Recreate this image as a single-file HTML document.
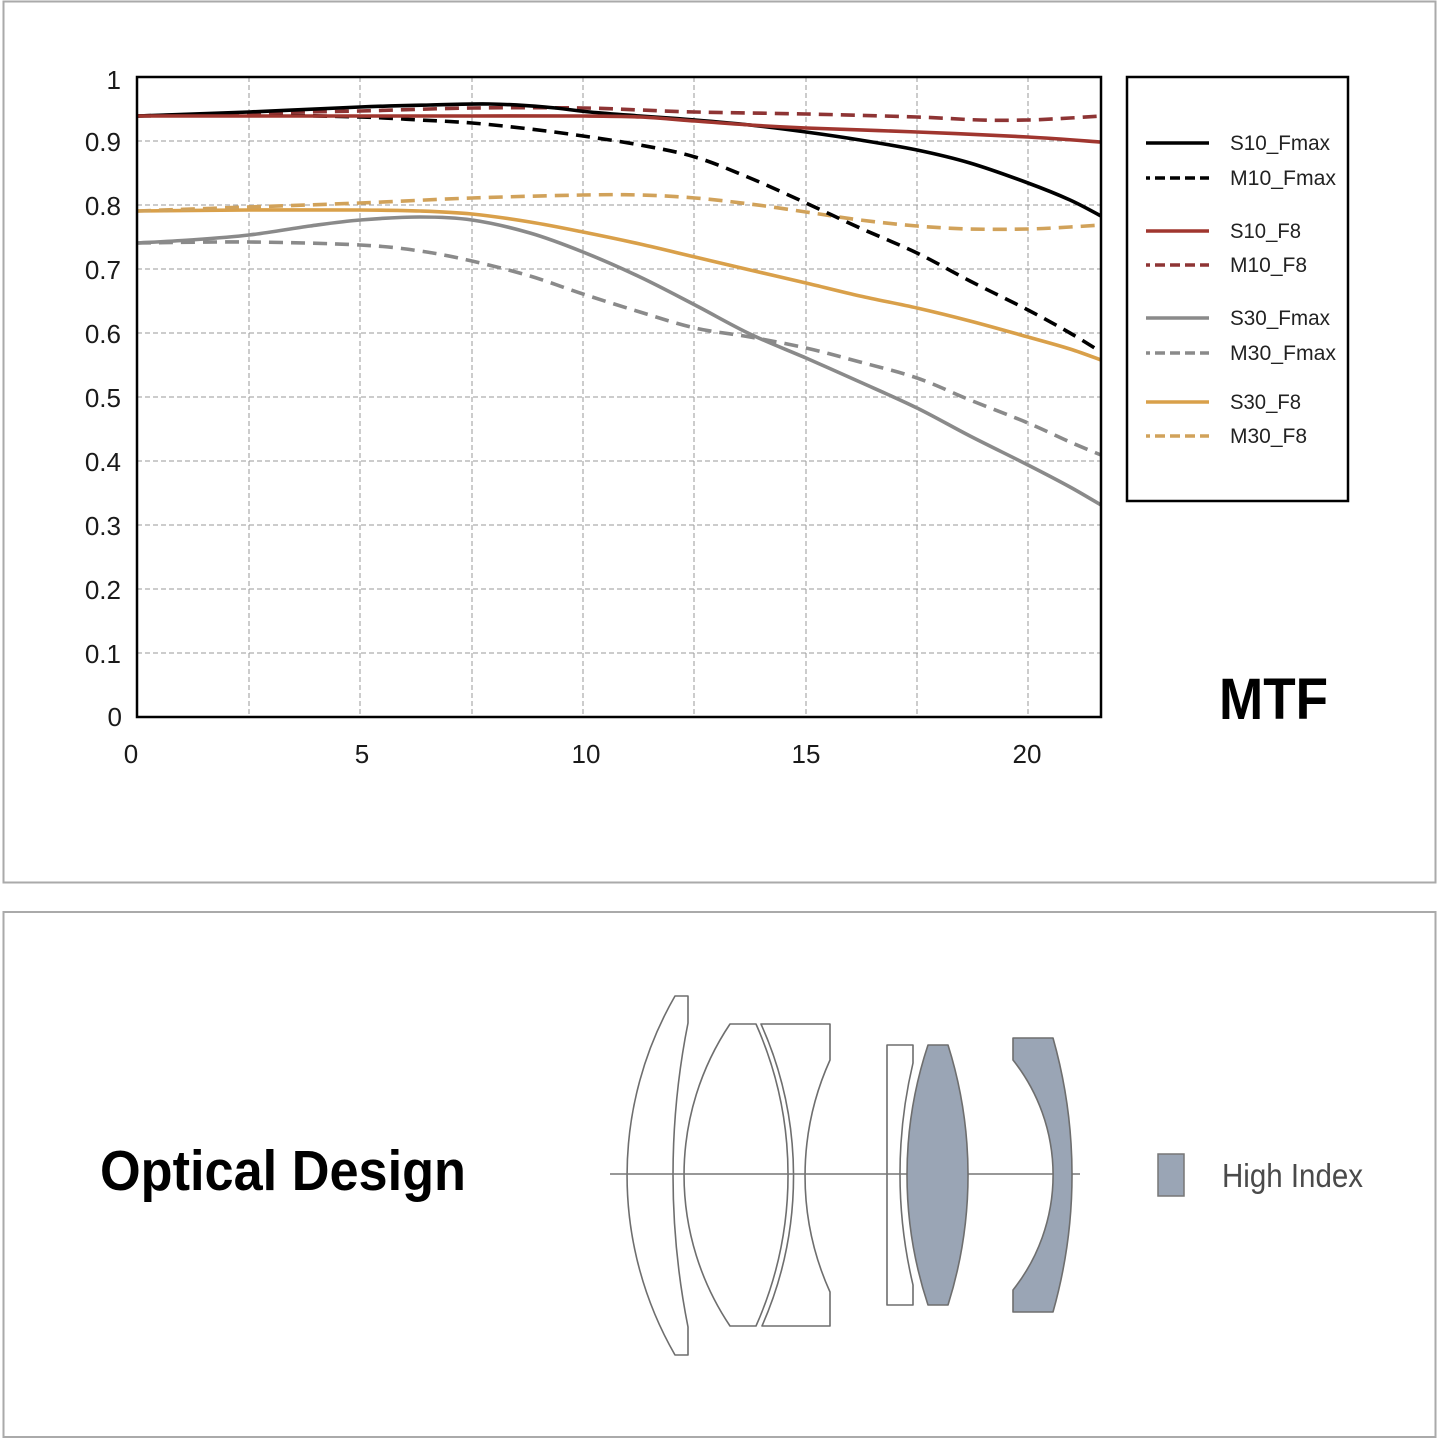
<!DOCTYPE html>
<html><head><meta charset="utf-8"><style>
html,body{margin:0;padding:0;background:#fff;}
svg{display:block;}
text{font-family:"Liberation Sans",sans-serif;}
</style></head><body>
<svg id="chart" width="1439" height="1439" viewBox="0 0 1439 1439" xmlns="http://www.w3.org/2000/svg">
<rect x="0" y="0" width="1439" height="1439" fill="#fff"/>
<!-- panels -->
<rect x="3.5" y="1.5" width="1432" height="881" fill="none" stroke="#aaa" stroke-width="2"/>
<rect x="3.5" y="912" width="1432" height="525" fill="none" stroke="#aaa" stroke-width="2"/>

<!-- grid -->
<g stroke="#9a9a9a" stroke-width="1" stroke-dasharray="5,3" fill="none">
<line x1="137" y1="141" x2="1101" y2="141"/>
<line x1="137" y1="205" x2="1101" y2="205"/>
<line x1="137" y1="269" x2="1101" y2="269"/>
<line x1="137" y1="333" x2="1101" y2="333"/>
<line x1="137" y1="397" x2="1101" y2="397"/>
<line x1="137" y1="461" x2="1101" y2="461"/>
<line x1="137" y1="525" x2="1101" y2="525"/>
<line x1="137" y1="589" x2="1101" y2="589"/>
<line x1="137" y1="653" x2="1101" y2="653"/>
<line x1="249" y1="77" x2="249" y2="717"/>
<line x1="360" y1="77" x2="360" y2="717"/>
<line x1="472" y1="77" x2="472" y2="717"/>
<line x1="583" y1="77" x2="583" y2="717"/>
<line x1="694" y1="77" x2="694" y2="717"/>
<line x1="806" y1="77" x2="806" y2="717"/>
<line x1="917" y1="77" x2="917" y2="717"/>
<line x1="1028" y1="77" x2="1028" y2="717"/>
</g>

<!-- series -->
<g id="series" fill="none" stroke-width="3.6" stroke-linejoin="round" stroke-linecap="butt">
<polyline stroke="#8a8a8a" stroke-dasharray="14,8" points="137,243 249,242 360,245 420,251 472,261 530,276 583,294 640,312 695,328 750,337 806,348 860,362 917,378 970,400 1028,423 1070,442 1101,455"/>
<polyline stroke="#8a8a8a" points="137,243 190,240 249,235 310,226 360,220 420,217 472,220 530,233 583,252 640,277 695,305 750,334 806,358 860,382 917,408 970,436 1028,465 1070,487 1101,505"/>
<polyline stroke="#d9a04a" points="137,211 249,210 360,210 420,211 472,214 530,222 583,232 640,244 695,257 750,270 806,283 860,296 917,308 970,321 1028,337 1070,349 1101,360"/>
<polyline stroke="#d1a25a" stroke-dasharray="14,8" points="137,211 249,207 360,203 472,198 583,195 640,195 695,198 750,204 806,212 860,220 917,226 970,229 1028,229 1070,227 1101,225"/>
<polyline stroke="#000" stroke-dasharray="14,8" points="137,116 249,115 360,117 420,120 472,123 530,129 583,136 640,145 695,157 750,178 806,203 860,228 917,253 970,281 1028,310 1070,333 1101,352"/>
<polyline stroke="#8e3434" stroke-dasharray="14,8" points="137,116 249,113 360,111 472,108 583,108 640,110 695,112 806,114 917,117 980,120 1028,120 1070,118 1101,116"/>
<polyline stroke="#000" points="137,116 249,112 360,107 430,105 490,104 545,107 590,112 640,116 695,120 750,125 806,132 860,140 917,150 970,163 1028,183 1070,200 1101,216"/>
<polyline stroke="#a0362f" points="137,116 249,116 360,116 472,116 583,116 640,117 695,121 750,125 806,128 917,132 1028,137 1101,142"/>
</g>

<!-- plot frame -->
<rect x="137" y="77" width="964" height="640" fill="none" stroke="#000" stroke-width="2.5"/>

<!-- y labels -->
<g font-size="26" fill="#1a1a1a" text-anchor="end">
<text x="121" y="89">1</text>
<text x="121" y="151">0.9</text>
<text x="121" y="215">0.8</text>
<text x="121" y="279">0.7</text>
<text x="121" y="343">0.6</text>
<text x="121" y="407">0.5</text>
<text x="121" y="471">0.4</text>
<text x="121" y="535">0.3</text>
<text x="121" y="599">0.2</text>
<text x="121" y="663">0.1</text>
<text x="122" y="726">0</text>
</g>
<g font-size="26" fill="#1a1a1a" text-anchor="middle">
<text x="131" y="763">0</text>
<text x="362" y="763">5</text>
<text x="586" y="763">10</text>
<text x="806" y="763">15</text>
<text x="1027" y="763">20</text>
</g>

<!-- legend -->
<rect x="1127" y="77" width="221" height="424" fill="none" stroke="#000" stroke-width="2.5"/>
<g stroke-width="3.6" fill="none">
<line x1="1146" y1="143" x2="1209" y2="143" stroke="#000"/>
<line x1="1146" y1="178" x2="1209" y2="178" stroke="#000" stroke-dasharray="4,5,10,5,10,5,10,5,10"/>
<line x1="1146" y1="231" x2="1209" y2="231" stroke="#a0362f"/>
<line x1="1146" y1="265" x2="1209" y2="265" stroke="#8e3434" stroke-dasharray="4,5,10,5,10,5,10,5,10"/>
<line x1="1146" y1="318" x2="1209" y2="318" stroke="#8a8a8a"/>
<line x1="1146" y1="353" x2="1209" y2="353" stroke="#8a8a8a" stroke-dasharray="4,5,10,5,10,5,10,5,10"/>
<line x1="1146" y1="402" x2="1209" y2="402" stroke="#d9a04a"/>
<line x1="1146" y1="436" x2="1209" y2="436" stroke="#d1a25a" stroke-dasharray="4,5,10,5,10,5,10,5,10"/>
</g>
<g font-size="21" fill="#222">
<text x="1230" y="150" textLength="100" lengthAdjust="spacingAndGlyphs">S10_Fmax</text>
<text x="1230" y="185" textLength="106" lengthAdjust="spacingAndGlyphs">M10_Fmax</text>
<text x="1230" y="238" textLength="71" lengthAdjust="spacingAndGlyphs">S10_F8</text>
<text x="1230" y="272" textLength="77" lengthAdjust="spacingAndGlyphs">M10_F8</text>
<text x="1230" y="325" textLength="100" lengthAdjust="spacingAndGlyphs">S30_Fmax</text>
<text x="1230" y="360" textLength="106" lengthAdjust="spacingAndGlyphs">M30_Fmax</text>
<text x="1230" y="409" textLength="71" lengthAdjust="spacingAndGlyphs">S30_F8</text>
<text x="1230" y="443" textLength="77" lengthAdjust="spacingAndGlyphs">M30_F8</text>
</g>

<text x="1219" y="719" font-size="58" font-weight="bold" fill="#000" textLength="109" lengthAdjust="spacingAndGlyphs">MTF</text>

<!-- Optical design -->
<text x="100" y="1190" font-size="57" font-weight="bold" fill="#000" textLength="366" lengthAdjust="spacingAndGlyphs">Optical Design</text>

<g stroke="#6e6e6e" stroke-width="1.6" fill="#fff" stroke-linejoin="round">
<path d="M675,996 L688,996 L688,1023 A778,778 0 0 0 688,1327 L688,1355 L675,1355 A360,360 0 0 1 675,996 Z"/>
<path d="M730,1024 L756,1024 A372,372 0 0 1 756,1326 L730,1326 A271,271 0 0 1 730,1024 Z"/>
<path d="M761,1024 L830,1024 L830,1060 A282,282 0 0 0 830,1292 L830,1326 L762,1326 A372,372 0 0 0 761,1024 Z"/>
<path d="M887,1045 L913,1045 L913,1063 A480,480 0 0 0 913,1285 L913,1305 L887,1305 Z"/>
</g>
<line x1="610" y1="1174" x2="1080" y2="1174" stroke="#777" stroke-width="1.6"/>
<g stroke="#6e6e6e" stroke-width="1.6" fill="#9aa5b5" stroke-linejoin="round">
<path d="M928,1045 L948,1045 A432,432 0 0 1 948,1305 L928,1305 A413,413 0 0 1 928,1045 Z"/>
<path d="M1013,1038 L1053,1038 A503,503 0 0 1 1053,1312 L1013,1312 L1013,1290 A185,185 0 0 0 1013,1060 Z"/>
</g>

<rect x="1158" y="1154" width="26" height="42" fill="#9aa5b5" stroke="#777" stroke-width="1.5"/>
<text x="1222" y="1187" font-size="33" fill="#4a4a4a" textLength="141" lengthAdjust="spacingAndGlyphs">High Index</text>
</svg>
<script>
(function(){
  var NS="http://www.w3.org/2000/svg";
  var g=document.getElementById("series");
  var pls=Array.prototype.slice.call(g.getElementsByTagName("polyline"));
  pls.forEach(function(pl){
    var pts=pl.getAttribute("points").trim().split(/\s+/).map(function(s){var a=s.split(",");return [parseFloat(a[0]),parseFloat(a[1])];});
    var d="M"+pts[0][0]+","+pts[0][1];
    for(var i=0;i<pts.length-1;i++){
      var p0=pts[i>0?i-1:i],p1=pts[i],p2=pts[i+1],p3=pts[i+2<pts.length?i+2:i+1];
      var c1x=p1[0]+(p2[0]-p0[0])/6,c1y=p1[1]+(p2[1]-p0[1])/6;
      var c2x=p2[0]-(p3[0]-p1[0])/6,c2y=p2[1]-(p3[1]-p1[1])/6;
      d+=" C"+c1x.toFixed(2)+","+c1y.toFixed(2)+" "+c2x.toFixed(2)+","+c2y.toFixed(2)+" "+p2[0]+","+p2[1];
    }
    var p=document.createElementNS(NS,"path");
    p.setAttribute("d",d);
    ["stroke","stroke-dasharray"].forEach(function(a){if(pl.getAttribute(a))p.setAttribute(a,pl.getAttribute(a));});
    g.replaceChild(p,pl);
  });
})();
</script>
</body></html>
